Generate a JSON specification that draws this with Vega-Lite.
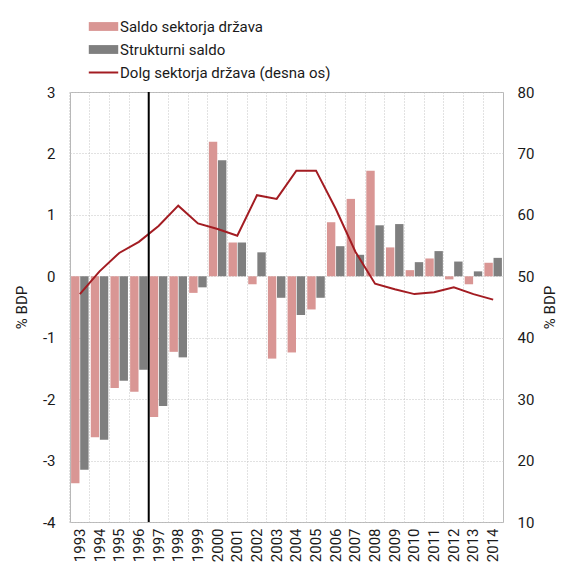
{
  "$schema": "https://vega.github.io/schema/vega-lite/v6.json",
  "autosize": {"type": "none"},
  "width": 433,
  "height": 430,
  "padding": {"left": 70, "top": 92, "right": 64, "bottom": 40},
  "background": "white",
  "config": {
    "font": "Roboto",
    "view": {"stroke": "#b8b8b8", "strokeWidth": 1},
    "axis": {"labelFont": "Roboto", "titleFont": "Roboto", "labelFontSize": 15, "titleFontSize": 15, "labelColor": "#1a1a1a", "titleColor": "#1a1a1a", "titleFontWeight": "normal", "ticks": false, "domain": false},
    "legend": {"labelFont": "Roboto", "labelFontSize": 15, "labelColor": "#1a1a1a", "labelLimit": 400}
  },
  "datasets": {
    "main": [
      {"year": 1993, "Saldo sektorja država": -3.37, "Strukturni saldo": -3.15, "Dolg": 47.1},
      {"year": 1994, "Saldo sektorja država": -2.62, "Strukturni saldo": -2.66, "Dolg": 50.8},
      {"year": 1995, "Saldo sektorja država": -1.82, "Strukturni saldo": -1.70, "Dolg": 53.8},
      {"year": 1996, "Saldo sektorja država": -1.88, "Strukturni saldo": -1.52, "Dolg": 55.6},
      {"year": 1997, "Saldo sektorja država": -2.29, "Strukturni saldo": -2.11, "Dolg": 58.2},
      {"year": 1998, "Saldo sektorja država": -1.23, "Strukturni saldo": -1.32, "Dolg": 61.5},
      {"year": 1999, "Saldo sektorja država": -0.27, "Strukturni saldo": -0.18, "Dolg": 58.6},
      {"year": 2000, "Saldo sektorja država": 2.19, "Strukturni saldo": 1.89, "Dolg": 57.7},
      {"year": 2001, "Saldo sektorja država": 0.55, "Strukturni saldo": 0.55, "Dolg": 56.6},
      {"year": 2002, "Saldo sektorja država": -0.13, "Strukturni saldo": 0.39, "Dolg": 63.2},
      {"year": 2003, "Saldo sektorja država": -1.34, "Strukturni saldo": -0.35, "Dolg": 62.6},
      {"year": 2004, "Saldo sektorja država": -1.24, "Strukturni saldo": -0.63, "Dolg": 67.2},
      {"year": 2005, "Saldo sektorja država": -0.54, "Strukturni saldo": -0.35, "Dolg": 67.2},
      {"year": 2006, "Saldo sektorja država": 0.88, "Strukturni saldo": 0.49, "Dolg": 61.0},
      {"year": 2007, "Saldo sektorja država": 1.26, "Strukturni saldo": 0.35, "Dolg": 54.0},
      {"year": 2008, "Saldo sektorja država": 1.72, "Strukturni saldo": 0.83, "Dolg": 48.8},
      {"year": 2009, "Saldo sektorja država": 0.47, "Strukturni saldo": 0.85, "Dolg": 47.9},
      {"year": 2010, "Saldo sektorja država": 0.10, "Strukturni saldo": 0.23, "Dolg": 47.1},
      {"year": 2011, "Saldo sektorja država": 0.29, "Strukturni saldo": 0.41, "Dolg": 47.4},
      {"year": 2012, "Saldo sektorja država": -0.05, "Strukturni saldo": 0.24, "Dolg": 48.2},
      {"year": 2013, "Saldo sektorja država": -0.13, "Strukturni saldo": 0.08, "Dolg": 47.1},
      {"year": 2014, "Saldo sektorja država": 0.22, "Strukturni saldo": 0.30, "Dolg": 46.2}
    ],
    "divider": [{"year": 1997}]
  },
  "layer": [
    {
      "data": {"name": "main"},
      "transform": [{"fold": ["Saldo sektorja država", "Strukturni saldo"], "as": ["serija", "vrednost"]}],
      "mark": {"type": "bar"},
      "encoding": {
        "x": {"field": "year", "type": "ordinal", "scale": {"paddingInner": 0, "paddingOuter": 0},
              "axis": {"title": null, "labelAngle": -90, "labelPadding": 6, "grid": true, "bandPosition": 0, "gridDash": [1, 2], "gridColor": "#c4c4c4", "labelBaseline": "middle"}},
        "xOffset": {"field": "serija", "type": "nominal", "scale": {"domain": ["Saldo sektorja država", "Strukturni saldo"], "paddingInner": 0.08, "paddingOuter": 0.12}},
        "y": {"field": "vrednost", "type": "quantitative", "scale": {"domain": [-4, 3], "nice": false},
              "axis": {"title": "% BDP", "values": [-4, -3, -2, -1, 0, 1, 2, 3], "labelPadding": 15, "titlePadding": 13, "grid": true, "gridDash": [1, 2], "gridColor": "#c4c4c4", "labelExpr": "'' + datum.value"}},
        "color": {"field": "serija", "type": "nominal",
                  "scale": {"domain": ["Saldo sektorja država", "Strukturni saldo", "Dolg sektorja država (desna os)"], "range": ["#d99694", "#7f7f7f", "#a31c22"]},
                  "legend": {"title": null, "orient": "none", "legendX": 26, "legendY": -73, "padding": 0, "rowPadding": 7, "labelOffset": 9, "symbolSize": 866,
                    "encode": {"symbols": {"update": {
                      "shape": {"signal": "datum.value === 'Dolg sektorja država (desna os)' ? 'M-1,0H1' : 'M-1,-0.3H1V0.3H-1Z'"},
                      "fill": {"signal": "datum.value === 'Dolg sektorja država (desna os)' ? 'transparent' : scale('color', datum.value)"},
                      "stroke": {"signal": "scale('color', datum.value)"},
                      "strokeWidth": {"signal": "datum.value === 'Dolg sektorja država (desna os)' ? 2 : 0"},
                      "opacity": {"value": 1}
                    }}}}}
      }
    },
    {
      "data": {"name": "main"},
      "mark": {"type": "line", "strokeWidth": 2},
      "encoding": {
        "x": {"field": "year", "type": "ordinal"},
        "y": {"field": "Dolg", "type": "quantitative", "scale": {"domain": [10, 80], "nice": false},
              "axis": {"orient": "right", "title": "% BDP", "values": [10, 20, 30, 40, 50, 60, 70, 80], "labelPadding": 14, "titlePadding": 24, "titleAngle": 270, "grid": false}},
        "color": {"datum": "Dolg sektorja država (desna os)"}
      }
    },
    {
      "data": {"name": "divider"},
      "mark": {"type": "rule", "color": "black", "strokeWidth": 2},
      "encoding": {
        "x": {"field": "year", "type": "ordinal", "bandPosition": 0}
      }
    }
  ],
  "resolve": {"scale": {"y": "independent"}}
}
